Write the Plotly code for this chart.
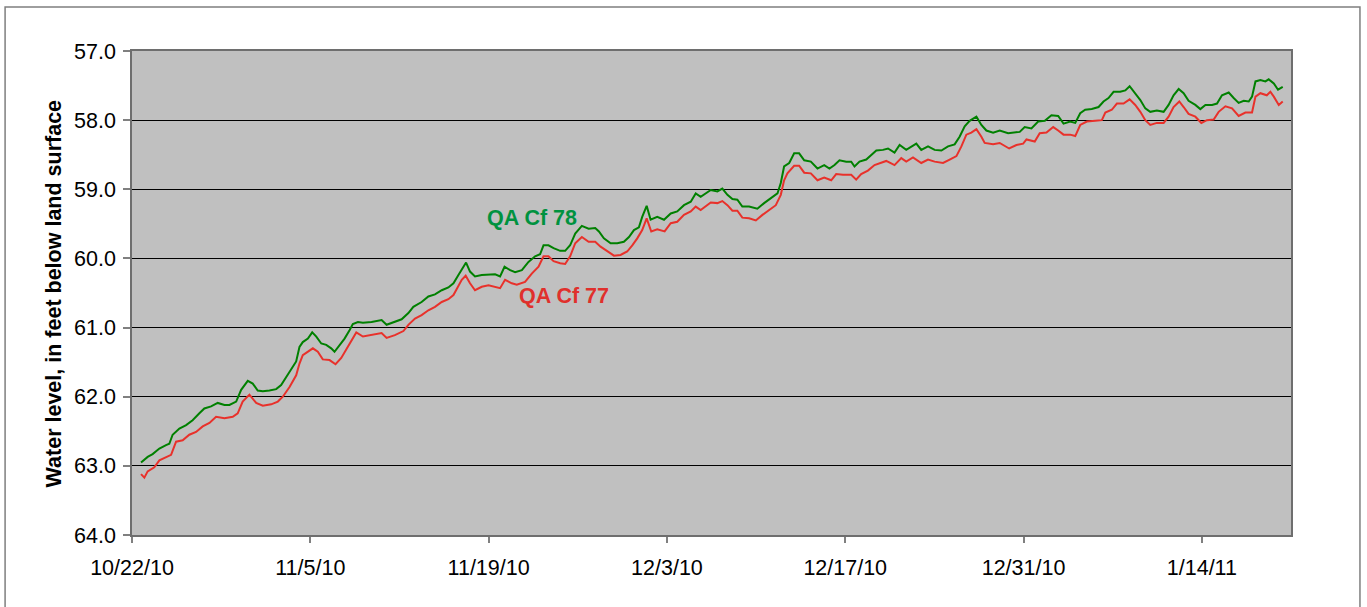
import pandas as pd
import plotly.graph_objects as go

# Hydrograph of two QA wells, Oct 2010 - Jan 2011.
# Time is given as elapsed days since 10/22/10 00:00; water level in feet below land surface.
START = pd.Timestamp("2010-10-22")

cf78_day = [
    0.71, 1.23, 1.62, 2.15, 2.67, 2.93, 3.19, 3.72, 4.25, 4.76, 5.29, 5.68, 6.21, 6.73,
    7.26, 7.65, 8.18, 8.57, 9.09, 9.48, 9.87, 10.27, 10.79, 11.32, 11.71, 12.11, 12.63,
    12.89, 13.15, 13.41, 13.81, 14.15, 14.47, 14.86, 15.25, 15.64, 15.90, 16.30, 16.69,
    17.08, 17.34, 17.74, 18.13, 18.81, 19.60, 19.99, 20.52, 21.17, 21.70, 22.09, 22.74,
    23.27, 23.79, 24.32, 24.84, 25.24, 25.63, 26.02, 26.23, 26.54, 26.93, 27.46, 27.99,
    28.51, 28.90, 29.25, 29.69, 30.08, 30.61, 31.13, 31.65, 32.04, 32.31, 32.70, 33.10,
    33.62, 34.01, 34.40, 34.80, 35.32, 35.85, 36.37, 36.66, 37.05, 37.58, 38.10, 38.62,
    39.02, 39.41, 39.80, 40.06, 40.41, 40.72, 41.24, 41.77, 42.30, 42.81, 43.34, 43.87,
    44.26, 44.65, 45.05, 45.44, 45.96, 46.35, 46.75, 47.14, 47.53, 47.92, 48.45, 49.10,
    49.63, 50.16, 50.68, 50.94, 51.20, 51.60, 51.99, 52.38, 52.78, 53.30, 53.82, 54.35,
    54.76, 55.16, 55.55, 56.08, 56.47, 56.73, 57.12, 57.65, 58.04, 58.44, 58.96, 59.36,
    59.87, 60.27, 60.79, 61.19, 61.58, 61.97, 62.50, 63.02, 63.55, 64.07, 64.59, 64.98,
    65.38, 65.77, 66.30, 66.69, 67.08, 67.61, 68.13, 68.79, 69.18, 69.70, 70.09, 70.62,
    71.15, 71.67, 72.19, 72.72, 73.14, 73.66, 74.06, 74.45, 74.84, 75.36, 75.89, 76.28,
    76.67, 77.07, 77.59, 77.99, 78.33, 78.77, 79.17, 79.56, 79.95, 80.47, 81.00, 81.39,
    81.78, 82.18, 82.57, 82.96, 83.49, 83.88, 84.28, 84.80, 85.19, 85.58, 86.11, 86.50,
    86.89, 87.29, 87.68, 87.94, 88.21, 88.60, 88.99, 89.25, 89.65, 89.98, 90.35,
]
cf78_level = [
    62.95, 62.87, 62.83, 62.75, 62.70, 62.68, 62.55, 62.46, 62.41, 62.34, 62.24, 62.17,
    62.14, 62.09, 62.12, 62.12, 62.07, 61.90, 61.77, 61.81, 61.91, 61.92, 61.91, 61.89,
    61.83, 61.71, 61.57, 61.49, 61.28, 61.21, 61.16, 61.07, 61.13, 61.23, 61.25, 61.30,
    61.35, 61.25, 61.16, 61.04, 60.95, 60.92, 60.93, 60.92, 60.89, 60.96, 60.92, 60.88,
    60.79, 60.70, 60.63, 60.55, 60.52, 60.46, 60.42, 60.36, 60.24, 60.12, 60.06, 60.19,
    60.26, 60.24, 60.24, 60.23, 60.26, 60.12, 60.17, 60.20, 60.17, 60.05, 59.97, 59.94,
    59.81, 59.81, 59.85, 59.89, 59.89, 59.81, 59.64, 59.53, 59.57, 59.56, 59.61, 59.71,
    59.78, 59.78, 59.76, 59.69, 59.59, 59.55, 59.40, 59.24, 59.44, 59.40, 59.44, 59.35,
    59.32, 59.23, 59.18, 59.06, 59.11, 59.06, 59.01, 59.03, 58.99, 59.08, 59.14, 59.15,
    59.25, 59.25, 59.28, 59.20, 59.13, 59.06, 58.91, 58.67, 58.62, 58.48, 58.48, 58.58,
    58.60, 58.70, 58.65, 58.70, 58.65, 58.58, 58.60, 58.60, 58.67, 58.60, 58.57, 58.50,
    58.44, 58.43, 58.41, 58.47, 58.36, 58.43, 58.38, 58.34, 58.43, 58.38, 58.43, 58.44,
    58.38, 58.35, 58.24, 58.09, 58.01, 57.95, 58.07, 58.15, 58.18, 58.15, 58.19, 58.18,
    58.17, 58.10, 58.12, 58.02, 58.01, 57.93, 57.94, 58.05, 58.02, 58.04, 57.90, 57.85,
    57.84, 57.81, 57.73, 57.68, 57.59, 57.59, 57.57, 57.51, 57.61, 57.71, 57.83, 57.88,
    57.86, 57.88, 57.78, 57.64, 57.55, 57.61, 57.72, 57.78, 57.84, 57.78, 57.78, 57.76,
    57.64, 57.60, 57.68, 57.75, 57.72, 57.73, 57.66, 57.44, 57.42, 57.44, 57.41, 57.47,
    57.56, 57.52,
]

cf77_day = [
    0.71, 0.97, 1.23, 1.75, 2.15, 2.67, 3.07, 3.46, 3.98, 4.50, 5.03, 5.55, 6.08, 6.60,
    7.26, 7.91, 8.30, 8.69, 9.22, 9.75, 10.27, 10.93, 11.45, 11.84, 12.37, 12.89, 13.15,
    13.41, 13.81, 14.20, 14.59, 14.98, 15.51, 15.98, 16.43, 16.82, 17.22, 17.61, 18.13,
    18.81, 19.60, 19.99, 20.64, 21.31, 21.70, 22.22, 22.74, 23.27, 23.79, 24.32, 24.84,
    25.24, 25.63, 25.89, 26.20, 26.54, 26.93, 27.46, 27.99, 28.51, 28.90, 29.29, 29.82,
    30.21, 30.86, 31.39, 31.92, 32.31, 32.70, 33.10, 33.62, 34.01, 34.40, 34.80, 35.32,
    35.85, 36.37, 36.79, 37.31, 37.84, 38.36, 38.88, 39.28, 39.67, 40.06, 40.41, 40.77,
    41.24, 41.82, 42.30, 42.81, 43.34, 43.87, 44.26, 44.65, 45.05, 45.44, 45.96, 46.35,
    46.75, 47.14, 47.53, 47.92, 48.45, 48.98, 49.50, 50.02, 50.55, 50.94, 51.20, 51.46,
    51.99, 52.38, 52.78, 53.30, 53.82, 54.35, 54.90, 55.29, 55.82, 56.47, 56.86, 57.25,
    57.78, 58.30, 58.83, 59.22, 59.87, 60.40, 60.79, 61.32, 61.97, 62.50, 63.02, 63.68,
    64.20, 64.73, 65.12, 65.51, 65.90, 66.30, 66.69, 66.95, 67.61, 68.13, 68.87, 69.44,
    69.97, 70.23, 70.88, 71.27, 71.80, 72.33, 72.72, 73.14, 73.66, 74.06, 74.45, 74.97,
    75.63, 76.15, 76.42, 76.93, 77.33, 77.85, 78.33, 78.77, 79.17, 79.56, 79.95, 80.47,
    81.00, 81.39, 81.78, 82.23, 82.57, 82.96, 83.49, 83.96, 84.40, 84.93, 85.32, 85.85,
    86.37, 86.89, 87.42, 87.94, 88.21, 88.60, 89.10, 89.38, 89.65, 90.04, 90.35,
]
cf77_level = [
    63.12, 63.17, 63.08, 63.02, 62.92, 62.87, 62.84, 62.65, 62.63, 62.55, 62.51, 62.43,
    62.38, 62.29, 62.31, 62.29, 62.24, 62.07, 61.97, 62.09, 62.13, 62.11, 62.07, 62.00,
    61.86, 61.69, 61.52, 61.40, 61.35, 61.30, 61.35, 61.46, 61.47, 61.53, 61.44, 61.32,
    61.18, 61.07, 61.13, 61.11, 61.08, 61.15, 61.11, 61.05, 60.96, 60.87, 60.82, 60.75,
    60.70, 60.63, 60.59, 60.53, 60.41, 60.31, 60.25, 60.36, 60.46, 60.41, 60.39, 60.41,
    60.43, 60.31, 60.36, 60.38, 60.34, 60.22, 60.12, 59.97, 59.97, 60.04, 60.07, 60.08,
    59.97, 59.78, 59.69, 59.76, 59.76, 59.83, 59.90, 59.96, 59.95, 59.90, 59.81, 59.71,
    59.59, 59.42, 59.61, 59.58, 59.61, 59.49, 59.47, 59.37, 59.32, 59.25, 59.30, 59.25,
    59.19, 59.20, 59.17, 59.23, 59.31, 59.31, 59.41, 59.42, 59.45, 59.37, 59.30, 59.23,
    59.08, 58.87, 58.77, 58.66, 58.66, 58.76, 58.77, 58.87, 58.83, 58.87, 58.78, 58.79,
    58.79, 58.86, 58.78, 58.73, 58.65, 58.62, 58.59, 58.65, 58.55, 58.60, 58.54, 58.62,
    58.57, 58.60, 58.62, 58.57, 58.52, 58.38, 58.21, 58.18, 58.13, 58.24, 58.33, 58.35,
    58.33, 58.41, 58.36, 58.34, 58.28, 58.31, 58.19, 58.18, 58.10, 58.15, 58.21, 58.21,
    58.23, 58.07, 58.02, 58.01, 58.00, 57.89, 57.85, 57.76, 57.76, 57.70, 57.78, 57.88,
    58.00, 58.07, 58.04, 58.04, 57.95, 57.81, 57.73, 57.81, 57.91, 57.95, 58.04, 58.00,
    57.99, 57.88, 57.80, 57.83, 57.94, 57.89, 57.89, 57.66, 57.61, 57.64, 57.59, 57.66,
    57.78, 57.73,
]

y_ticks = [57, 58, 59, 60, 61, 62, 63, 64]
x_tick_dates = ["2010-10-22", "2010-11-05", "2010-11-19", "2010-12-03",
                "2010-12-17", "2010-12-31", "2011-01-14"]

GREEN = "#008000"
RED = "#E8312B"
FONT = "Arial, Liberation Sans, sans-serif"
FS = 21.5


def to_time(days):
    return START + pd.to_timedelta(pd.Series(days), unit="D")


fig = go.Figure()
fig.add_trace(go.Scatter(x=to_time(cf77_day), y=cf77_level, mode="lines",
                         name="QA Cf 77", line=dict(color=RED, width=2)))
fig.add_trace(go.Scatter(x=to_time(cf78_day), y=cf78_level, mode="lines",
                         name="QA Cf 78", line=dict(color=GREEN, width=2)))

# In-plot series labels
fig.add_annotation(x=START + pd.Timedelta(days=31.4), y=59.415, text="<b>QA Cf 78</b>",
                   showarrow=False, font=dict(family=FONT, size=FS, color="#00923F"))
fig.add_annotation(x=START + pd.Timedelta(days=33.95), y=60.54, text="<b>QA Cf 77</b>",
                   showarrow=False, font=dict(family=FONT, size=FS, color="#E0302C"))

# Vertical axis title
fig.add_annotation(xref="paper", yref="paper", x=-0.079, y=0.5,
                   text="<b>Water level, in feet below land surface</b>", textangle=-90,
                   showarrow=False, font=dict(family=FONT, size=FS, color="black"))

# Chart-area frame
fig.add_shape(type="rect", xref="paper", yref="paper", x0=-0.1095, x1=1.0595,
              y0=-0.2, y1=1.0908, line=dict(color="#7F7F7F", width=1.5), layer="below")

fig.update_layout(
    width=1367, height=607,
    margin=dict(l=132, r=76, t=51, b=72),
    paper_bgcolor="white", plot_bgcolor="#C0C0C0",
    showlegend=False,
    font=dict(family=FONT, size=FS, color="black"),
)
fig.update_xaxes(
    type="date",
    range=["2010-10-22", "2011-01-21"],
    tickvals=x_tick_dates, tickformat="%-m/%-d/%y",
    showgrid=False, zeroline=False,
    showline=True, linecolor="#6E6E6E", linewidth=1.5, mirror=True,
    ticks="outside", ticklen=6, tickcolor="#808080", tickwidth=1.5,
    ticklabelstandoff=6,
    tickfont=dict(family=FONT, size=FS, color="black"),
)
fig.update_yaxes(
    range=[64, 57],
    tickvals=y_ticks, tickformat=".1f",
    showgrid=True, gridcolor="black", gridwidth=1, zeroline=False,
    showline=True, linecolor="#6E6E6E", linewidth=1.5, mirror=True,
    ticks="outside", ticklen=7, tickcolor="#808080", tickwidth=1.5,
    ticklabelstandoff=3,
    tickfont=dict(family=FONT, size=FS, color="black"),
)

fig.write_html("out.html")
